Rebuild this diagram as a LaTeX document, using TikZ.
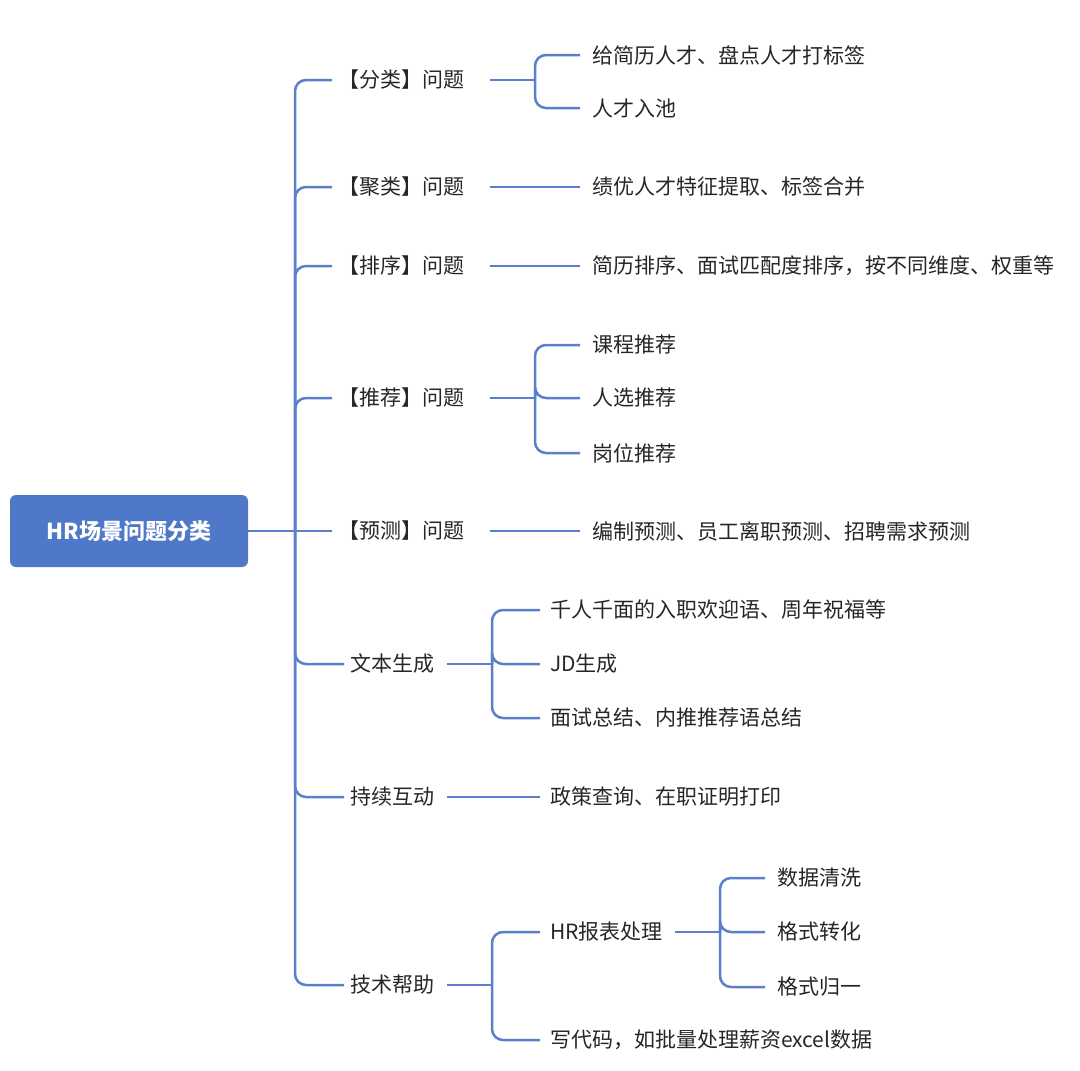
\documentclass[tikz,border=0pt]{standalone}
\usepackage{fontspec}
\setmainfont{Noto Sans CJK SC}
\begin{document}
\begin{tikzpicture}[x=1pt,y=-1pt,
  c/.style={draw=lc,line width=2.5pt,rounded corners=11pt},
  t/.style={anchor=west,inner sep=0pt,font=\fontsize{21}{24}\selectfont,text=black!85}]
\definecolor{lc}{HTML}{5B7FCB}
\definecolor{rc}{HTML}{4F78C8}
\useasboundingbox (0,0) rectangle (1080,1071);
\node[fill=rc,rounded corners=6pt,minimum width=238pt,minimum height=72pt,text=white,font=\fontsize{22}{24}\selectfont\bfseries] (root) at (129,531) {HR场景问题分类};
% level 1
\node[t] (a) at (338,80) {【分类】问题};
\node[t] (b) at (338,187) {【聚类】问题};
\node[t] (cc) at (338,266) {【排序】问题};
\node[t] (d) at (338,398) {【推荐】问题};
\node[t] (e) at (338,531) {【预测】问题};
\node[t] (f) at (350,664) {文本生成};
\node[t] (g) at (350,797) {持续互动};
\node[t] (h) at (350,985) {技术帮助};
\coordinate (rj) at (295,531);
\draw[c] (root.east) -- (rj);
\foreach \n in {a,b,cc,d,f,g,h}{\draw[c] (rj) |- ([xshift=-6pt]\n.west);}
\draw[c] (rj) -- ([xshift=-6pt]e.west);
% level 2
\node[t] (a1) at (592,55) {给简历人才、盘点人才打标签};
\node[t] (a2) at (592,108) {人才入池};
\node[t] (b1) at (592,187) {绩优人才特征提取、标签合并};
\node[t] (c1) at (592,266) {简历排序、面试匹配度排序，按不同维度、权重等};
\node[t] (d1) at (592,345) {课程推荐};
\node[t] (d2) at (592,398) {人选推荐};
\node[t] (d3) at (592,453) {岗位推荐};
\node[t] (e1) at (592,531) {编制预测、员工离职预测、招聘需求预测};
\foreach \p/\q in {a/a1,a/a2,d/d1,d/d2,d/d3}{\draw[c] (535,0|-\p.west) |- (580,0|-\q.west);}
\foreach \p in {a,d}{\draw[c] (490,0|-\p.west) -- (535,0|-\p.west);}
\foreach \p/\q in {b/b1,cc/c1,e/e1}{\draw[c] (490,0|-\p.west) -- (580,0|-\q.west);}
\node[t] (f1) at (550,610) {千人千面的入职欢迎语、周年祝福等};
\node[t] (f2) at (550,664) {JD生成};
\node[t] (f3) at (550,718) {面试总结、内推推荐语总结};
\node[t] (g1) at (550,797) {政策查询、在职证明打印};
\node[t] (h1) at (550,932) {HR报表处理};
\node[t] (h2) at (550,1040) {写代码，如批量处理薪资excel数据};
\foreach \p/\q in {f/f1,f/f2,f/f3,h/h1,h/h2}{\draw[c] (492,0|-\p.west) |- (540,0|-\q.west);}
\foreach \p in {f,h}{\draw[c] (447,0|-\p.west) -- (492,0|-\p.west);}
\draw[c] (447,0|-g.west) -- (540,0|-g1.west);
\node[t] (i1) at (777,878) {数据清洗};
\node[t] (i2) at (777,932) {格式转化};
\node[t] (i3) at (777,987) {格式归一};
\draw[c] (675,0|-h1.west) -- (720,0|-h1.west);
\foreach \q in {i1,i2,i3}{\draw[c] (720,0|-h1.west) |- (765,0|-\q.west);}
\end{tikzpicture}
\end{document}
